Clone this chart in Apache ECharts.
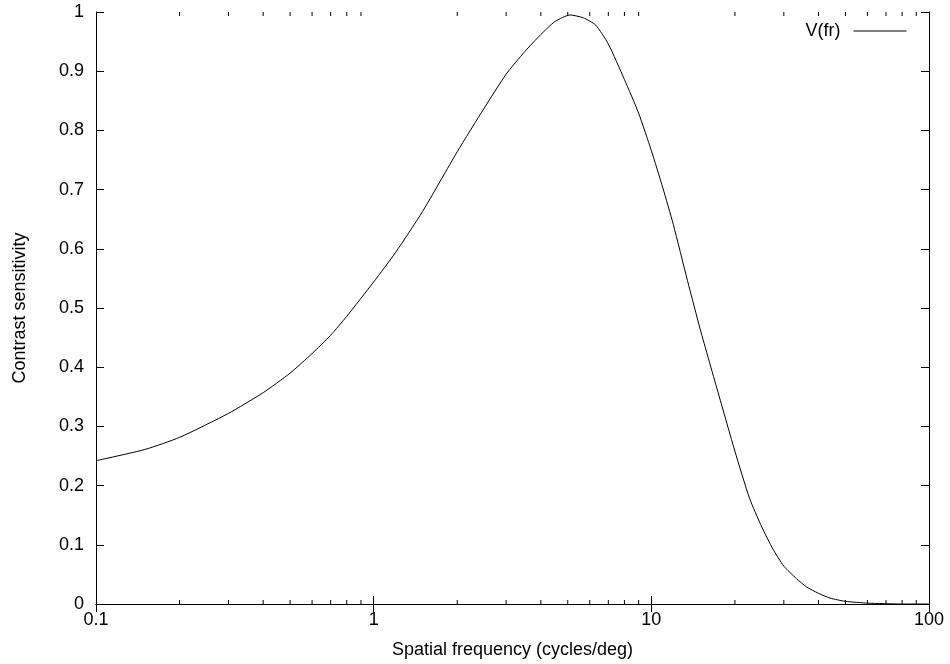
<!DOCTYPE html>
<html>
<head>
<meta charset="utf-8">
<script src="https://cdn.jsdelivr.net/npm/echarts@6/dist/echarts.min.js"></script>
<style>
html,body{margin:0;padding:0;background:#fff;}
#chart{width:950px;height:664px;}
</style>
</head>
<body>
<div id="chart"></div>
<script>
// Data
const freq = [0.1, 0.15, 0.2, 0.3, 0.4, 0.5, 0.6, 0.7, 0.8, 1.0, 1.2, 1.5, 2.0, 2.5, 3.0, 3.5, 4.0, 4.5, 5.1, 5.7, 6.3, 7.0, 8.0, 9.0, 10, 11, 12, 13.5, 15, 17.5, 20, 22.6, 25, 27.4, 30, 33.3, 36.2, 40, 44, 50, 60, 80, 100];
const sens = [0.242, 0.261, 0.2815, 0.322, 0.357, 0.39, 0.423, 0.454, 0.486, 0.544, 0.594, 0.663, 0.764, 0.8375, 0.895, 0.933, 0.962, 0.984, 0.995, 0.990, 0.978, 0.946, 0.886, 0.829, 0.766, 0.703, 0.641, 0.546, 0.464, 0.353, 0.258, 0.178, 0.130, 0.093, 0.064, 0.043, 0.029, 0.018, 0.010, 0.0045, 0.0015, 0.0, 0.0];
const minorTicks = [0.2,0.3,0.4,0.5,0.6,0.7,0.8,0.9,2,3,4,5,6,7,8,9,20,30,40,50,60,70,80,90];
const seriesName = 'V(fr)';
const xTitle = 'Spatial frequency (cycles/deg)';
const yTitle = 'Contrast sensitivity';

const FONT = "'Liberation Sans', Arial, sans-serif";
const FS = 18;
const chart = echarts.init(document.getElementById('chart'), null, {renderer: 'canvas'});

const lineData = freq.map((f, i) => [f, sens[i]]);
const axisLine = {show: true, lineStyle: {color: '#000', width: 1}};

chart.setOption({
  animation: false,
  backgroundColor: '#fff',
  textStyle: {fontFamily: FONT},
  grid: {left: 96, right: 21, top: 12, bottom: 58, containLabel: false},
  legend: {
    data: [seriesName],
    right: 38, top: 17,
    align: 'right',
    itemWidth: 53, itemHeight: 14,
    itemStyle: {opacity: 0},
    lineStyle: {color: '#000', width: 1},
    textStyle: {fontSize: FS, color: '#000', fontFamily: FONT, padding: [0, 8, 0, 0]},
    selectedMode: false
  },
  xAxis: [{
    type: 'log', logBase: 10, min: 0.1, max: 100, position: 'bottom',
    axisLine: axisLine,
    axisTick: {show: true, inside: true, length: 8, lineStyle: {color: '#000'}},
    splitLine: {show: false},
    axisLabel: {fontSize: FS, color: '#000', margin: 7, fontFamily: FONT},
    name: xTitle, nameLocation: 'middle', nameGap: 37,
    nameTextStyle: {fontSize: FS, color: '#000', fontFamily: FONT}
  }, {
    type: 'log', logBase: 10, min: 0.1, max: 100, position: 'top',
    axisLine: axisLine,
    axisTick: {show: true, inside: true, length: 8, lineStyle: {color: '#000'}},
    splitLine: {show: false},
    axisLabel: {show: false}
  }],
  yAxis: [{
    type: 'value', min: 0, max: 1, interval: 0.1, position: 'left',
    axisLine: axisLine,
    axisTick: {show: true, inside: true, length: 8, lineStyle: {color: '#000'}},
    splitLine: {show: false},
    axisLabel: {fontSize: FS, color: '#000', margin: 12, fontFamily: FONT},
    name: yTitle, nameLocation: 'middle', nameGap: 67, nameRotate: 90,
    nameTextStyle: {fontSize: FS, color: '#000', fontFamily: FONT}
  }, {
    type: 'value', min: 0, max: 1, interval: 0.1, position: 'right',
    axisLine: axisLine,
    axisTick: {show: true, inside: true, length: 8, lineStyle: {color: '#000'}},
    splitLine: {show: false},
    axisLabel: {show: false}
  }],
  series: [{
    name: seriesName,
    type: 'line',
    xAxisIndex: 0, yAxisIndex: 0,
    data: lineData,
    symbol: 'none',
    smooth: 0.2,
    lineStyle: {color: '#000', width: 1},
    itemStyle: {color: '#000'},
    silent: true
  }, {
    name: 'minor',
    type: 'custom',
    xAxisIndex: 0, yAxisIndex: 0,
    silent: true,
    clip: false,
    data: minorTicks.map(v => [v, 0]),
    renderItem: function (params, api) {
      const b = api.coord([api.value(0), 0]);
      const t = api.coord([api.value(0), 1]);
      const st = {stroke: '#000', lineWidth: 1};
      return {type: 'group', children: [
        {type: 'line', shape: {x1: b[0], y1: b[1], x2: b[0], y2: b[1] - 4}, style: st},
        {type: 'line', shape: {x1: t[0], y1: t[1], x2: t[0], y2: t[1] + 4}, style: st}
      ]};
    }
  }]
});
</script>
</body>
</html>
